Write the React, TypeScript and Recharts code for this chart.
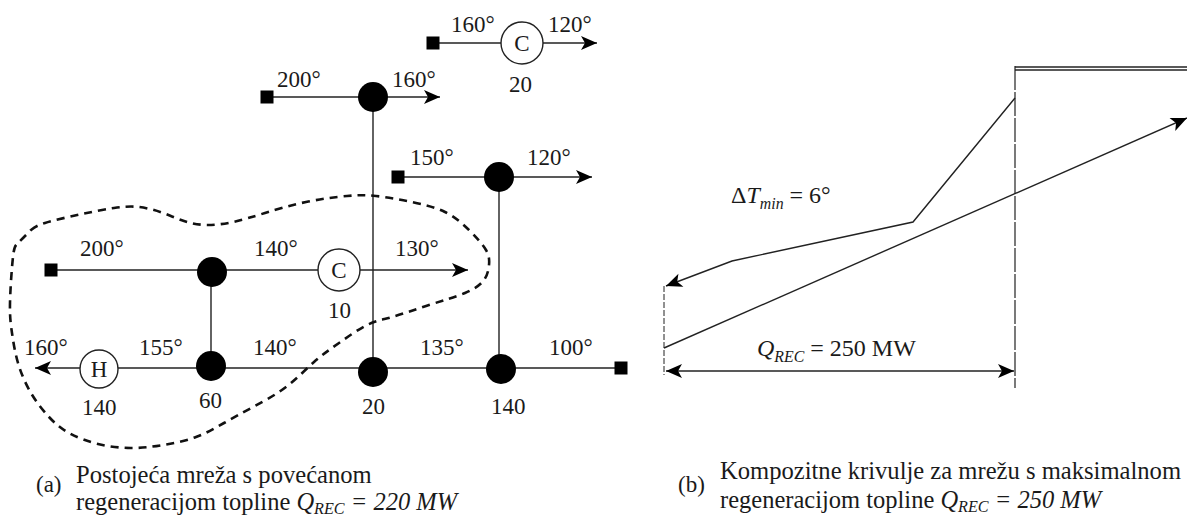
import { ComposedChart, Line, Scatter, XAxis, YAxis } from 'recharts'

const W = 1187
const H = 518
const serif = '"Liberation Serif", serif'

// streams and matches of the network, in picture units
const streams = [
  [{ x: 433, y: 43 }, { x: 597, y: 43 }],
  [{ x: 267, y: 97 }, { x: 440, y: 97 }],
  [{ x: 398, y: 177 }, { x: 592, y: 177 }],
  [{ x: 51, y: 270 }, { x: 468, y: 270 }],
  [{ x: 621, y: 368 }, { x: 35, y: 368 }],
]
const matches = [
  [{ x: 373, y: 97 }, { x: 373, y: 370 }],
  [{ x: 499, y: 177 }, { x: 499, y: 369 }],
  [{ x: 211, y: 270 }, { x: 211, y: 365 }],
]
const pocket = [
  [31, 230], [45, 223], [82, 214], [114, 208], [139, 207], [163, 213], [184, 221], [206, 225],
  [233, 222], [265, 213], [306, 202], [347, 196], [376, 196], [412, 202], [445, 212], [469, 230],
  [486, 250], [489, 265], [484, 280], [465, 293], [429, 305], [392, 317], [367, 325], [339, 343],
  [314, 362], [286, 387], [253, 407], [224, 423], [196, 437], [163, 445], [131, 448], [98, 444],
  [69, 433], [49, 417], [31, 393], [18, 363], [12, 333], [10, 303], [13, 257], [18, 243], [31, 230],
].map(([x, y]) => ({ x, y }))

// composite curves
const hotCurve = [{ x: 1015, y: 98 }, { x: 913, y: 222 }, { x: 732, y: 261 }, { x: 666, y: 286 }]
const coldCurve = [{ x: 664, y: 348 }, { x: 1187, y: 118 }]
const pinchLeft = [{ x: 664, y: 286 }, { x: 664, y: 375 }]
const pinchRight = [{ x: 1015, y: 66 }, { x: 1015, y: 388 }]
const topRails = [
  [{ x: 1015, y: 67 }, { x: 1187, y: 67 }],
  [{ x: 1015, y: 70 }, { x: 1187, y: 70 }],
]
const span = [{ x: 666, y: 371 }, { x: 1014, y: 371 }]

const sources = [
  { x: 433, y: 43 }, { x: 267, y: 97 }, { x: 398, y: 177 }, { x: 51, y: 270 }, { x: 621, y: 368 },
]
const exchangers = [
  { x: 373, y: 97 }, { x: 499, y: 177 }, { x: 212, y: 272 }, { x: 211, y: 366 }, { x: 373, y: 372 }, { x: 501, y: 369 },
]
const utilities = [
  { x: 522, y: 43, r: 21, text: 'C' },
  { x: 339, y: 270, r: 21, text: 'C' },
  { x: 99, y: 369, r: 19, text: 'H' },
]
const arrowTips = [
  { x: 597, y: 43, dir: 0 }, { x: 440, y: 97, dir: 0 }, { x: 592, y: 177, dir: 0 }, { x: 468, y: 270, dir: 0 },
  { x: 35, y: 368, dir: 180 }, { x: 666, y: 286, dir: 159 }, { x: 1187, y: 118, dir: -24 },
  { x: 666, y: 371, dir: 180 }, { x: 1014, y: 371, dir: 0 },
]

const labels = [
  { x: 451, y: 32, text: '160°' }, { x: 548, y: 32, text: '120°' }, { x: 509, y: 92, text: '20' },
  { x: 277, y: 87, text: '200°' }, { x: 392, y: 87, text: '160°' },
  { x: 410, y: 165, text: '150°' }, { x: 527, y: 165, text: '120°' },
  { x: 80, y: 256, text: '200°' }, { x: 254, y: 256, text: '140°' }, { x: 395, y: 256, text: '130°' },
  { x: 328, y: 318, text: '10' },
  { x: 24, y: 355, text: '160°' }, { x: 139, y: 355, text: '155°' }, { x: 253, y: 355, text: '140°' },
  { x: 420, y: 355, text: '135°' }, { x: 549, y: 355, text: '100°' },
  { x: 82, y: 415, text: '140' }, { x: 199, y: 408, text: '60' }, { x: 362, y: 414, text: '20' }, { x: 491, y: 414, text: '140' },
  { x: 36, y: 492, text: '(a)' }, { x: 678, y: 492, text: '(b)' },
]
const captions = [
  { x: 76, y: 483, text: 'Postojeća mreža s povećanom' },
  { x: 720, y: 479, text: 'Kompozitne krivulje za mrežu s maksimalnom' },
]
const formulas = [
  { x: 731, y: 203, parts: [{ t: 'Δ' }, { t: 'T', i: true }, { t: 'min', i: true, sub: true }, { t: ' = 6°' }] },
  { x: 757, y: 356, parts: [{ t: 'Q', i: true }, { t: 'REC', i: true, sub: true }, { t: ' = 250 MW' }] },
]
const captionFormulas = [
  { x: 76, y: 510, parts: [{ t: 'regeneracijom topline ' }, { t: 'Q', i: true }, { t: 'REC', i: true, sub: true }, { t: ' = 220 MW', i: true }] },
  { x: 720, y: 508, parts: [{ t: 'regeneracijom topline ' }, { t: 'Q', i: true }, { t: 'REC', i: true, sub: true }, { t: ' = 250 MW', i: true }] },
]

const plain = (size: number) => (p: any) => (
  <text x={p.cx} y={p.cy} fontFamily={serif} fontSize={size} fill="#1a1a1a">
    {p.payload.text}
  </text>
)

const rich = (size: number, drop: number) => (p: any) => {
  let wasSub = false
  return (
    <text x={p.cx} y={p.cy} fontFamily={serif} fontSize={size} fill="#1a1a1a" xmlSpace="preserve">
      {p.payload.parts.map((part: any, i: number) => {
        const dy = part.sub ? drop : wasSub ? -drop : 0
        wasSub = !!part.sub
        return (
          <tspan key={i} dy={dy} fontStyle={part.i ? 'italic' : 'normal'} fontSize={part.sub ? size * 0.66 : size}>
            {part.t}
          </tspan>
        )
      })}
    </text>
  )
}

const Square = (p: any) => <rect x={p.cx - 6.5} y={p.cy - 6.5} width={13} height={13} fill="#000" />
const Node = (p: any) => <circle cx={p.cx} cy={p.cy} r={15} fill="#000" />
const Utility = (p: any) => (
  <g>
    <circle cx={p.cx} cy={p.cy} r={p.payload.r} fill="#fff" stroke="#222" strokeWidth={1.4} />
    <text x={p.cx} y={p.cy + 8} textAnchor="middle" fontFamily={serif} fontSize={23} fill="#1a1a1a">
      {p.payload.text}
    </text>
  </g>
)
const Arrow = (p: any) => (
  <path
    transform={`translate(${p.cx} ${p.cy}) rotate(${p.payload.dir})`}
    d="M0 0 L-16 -7 L-12 0 L-16 7 Z"
    fill="#000"
  />
)

const solid = (key: string, data: { x: number; y: number }[], width = 1.4) => (
  <Line
    key={key}
    data={data}
    dataKey="y"
    type="linear"
    stroke="#222"
    strokeWidth={width}
    dot={false}
    activeDot={false}
    legendType="none"
    isAnimationActive={false}
  />
)

export default function App() {
  return (
    <div style={{ position: 'absolute', left: 0, top: 0, width: W, height: H, background: '#fff', overflow: 'hidden' }}>
      <ComposedChart width={W} height={H} margin={{ top: 0, right: 0, bottom: 0, left: 0 }}>
        <XAxis type="number" dataKey="x" domain={[0, W]} hide allowDataOverflow />
        <YAxis type="number" dataKey="y" domain={[0, H]} reversed hide allowDataOverflow />
        {streams.map((s, i) => solid(`stream${i}`, s))}
        {matches.map((s, i) => solid(`match${i}`, s))}
        <Line
          data={pocket}
          dataKey="y"
          type="natural"
          stroke="#111"
          strokeWidth={2.6}
          strokeDasharray="8 6"
          dot={false}
          activeDot={false}
          isAnimationActive={false}
        />
        {solid('hot', hotCurve)}
        {solid('cold', coldCurve)}
        {solid('span', span)}
        {topRails.map((s, i) => solid(`rail${i}`, s))}
        <Line data={pinchLeft} dataKey="y" type="linear" stroke="#222" strokeWidth={1} strokeDasharray="6 2" dot={false} activeDot={false} isAnimationActive={false} />
        <Line data={pinchRight} dataKey="y" type="linear" stroke="#222" strokeWidth={1.2} strokeDasharray="24 2" dot={false} activeDot={false} isAnimationActive={false} />
        <Scatter data={sources} shape={Square} isAnimationActive={false} />
        <Scatter data={exchangers} shape={Node} isAnimationActive={false} />
        <Scatter data={utilities} shape={Utility} isAnimationActive={false} />
        <Scatter data={arrowTips} shape={Arrow} isAnimationActive={false} />
        <Scatter data={labels} shape={plain(23)} isAnimationActive={false} />
        <Scatter data={captions} shape={plain(24.6)} isAnimationActive={false} />
        <Scatter data={formulas} shape={rich(24, 6)} isAnimationActive={false} />
        <Scatter data={captionFormulas} shape={rich(24.5, 4)} isAnimationActive={false} />
      </ComposedChart>
    </div>
  )
}
